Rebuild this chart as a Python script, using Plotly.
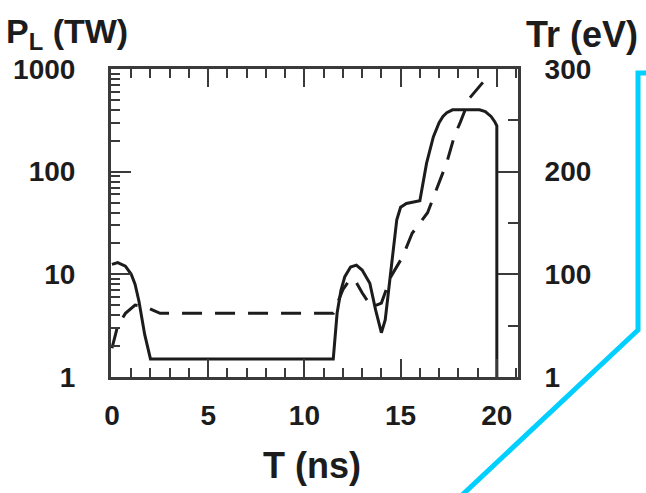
import plotly.graph_objects as go

# Laser power P_L (TW), solid line, left log axis
t_power = [0.0, 0.3, 0.7, 1.0, 1.2, 1.4, 1.7, 2.0, 11.5, 11.7, 11.9, 12.1, 12.4, 12.7, 13.0,
           13.4, 13.7, 14.0, 14.2, 14.5, 14.8, 15.0, 15.3, 16.0, 16.35, 16.7, 17.0, 17.2,
           17.4, 17.7, 19.1, 19.4, 19.7, 19.9, 20.0, 20.0]
power_tw = [12.5, 13, 12, 10, 8, 5.5, 2.6, 1.5, 1.5, 4.2, 7, 9.5, 11.8, 12.3, 11,
            8.2, 4.5, 2.7, 3.6, 11.8, 34, 45, 49, 52, 121, 218, 300, 345,
            375, 400, 400, 385, 345, 305, 280, 1.0]

# Radiation temperature Tr (eV), dashed line, right linear axis
t_temp = [0.0, 0.3, 0.7, 1.2, 1.8, 2.5, 11.5, 12.0, 12.4, 12.7, 13.0, 13.5, 14.0, 14.5,
          15.1, 15.6, 16.4, 17.0, 17.4, 17.8, 18.1, 18.6, 19.5]
temp_ev = [28, 50, 62, 70, 68, 62, 62, 85, 96, 92, 82, 68, 72, 98,
           117, 140, 160, 189, 209, 235, 248, 272, 292]

x_ticks = [0, 5, 10, 15, 20]
left_ticks = [1, 10, 100, 1000]
left_labels = ["1", "10", "100", "1000"]
right_ticks = [0, 100, 200, 300]
right_labels = ["1", "100", "200", "300"]

INK = "#1c1c1c"
FRAME = "#3a3a3a"
FONT = "Liberation Sans"

fig = go.Figure()
fig.add_trace(go.Scatter(x=t_power, y=power_tw, mode="lines",
                         line=dict(color=INK, width=3), yaxis="y", showlegend=False))
fig.add_trace(go.Scatter(x=t_temp, y=temp_ev, mode="lines",
                         line=dict(color=INK, width=3, dash="20px,13px"), yaxis="y2",
                         showlegend=False))

W, H = 646, 493
L, R, T, B = 111, 128, 69, 116
pw, ph = W - L - R, H - T - B


def px(xp):
    return (xp - L) / pw


def py(yp):
    return (H - B - yp) / ph


fig.update_layout(
    width=W, height=H,
    margin=dict(l=L, r=R, t=T, b=B, pad=0),
    paper_bgcolor="white", plot_bgcolor="white",
    font=dict(family=FONT, size=28, color=INK, weight="bold"),
    xaxis=dict(range=[-0.05, 21.1], tickvals=x_ticks, ticks="inside", ticklen=18,
               tickwidth=2, tickcolor=FRAME, showline=True, linewidth=3, linecolor=FRAME,
               mirror="ticks", showgrid=False, zeroline=False, ticklabelstandoff=11,
               minor=dict(ticks="inside", dtick=1, tick0=0, ticklen=9, tickwidth=2,
                          tickcolor=FRAME, showgrid=False),
               tickfont=dict(size=28)),
    yaxis=dict(type="log", range=[0, 3], tickvals=left_ticks, ticktext=left_labels,
               ticks="inside", ticklen=20, tickwidth=2, tickcolor=FRAME,
               showline=True, linewidth=3, linecolor=FRAME, mirror=False,
               showgrid=False, zeroline=False, ticklabelstandoff=27,
               minor=dict(ticks="inside", dtick="D1", ticklen=9, tickwidth=2,
                          tickcolor=FRAME, showgrid=False),
               tickfont=dict(size=28)),
    yaxis2=dict(overlaying="y", side="right", range=[0, 300], tickvals=right_ticks,
                ticktext=right_labels, ticks="inside", ticklen=20, tickwidth=2,
                tickcolor=FRAME, showline=True, linewidth=3, linecolor=FRAME,
                showgrid=False, zeroline=False, ticklabelstandoff=18,
                minor=dict(ticks="inside", dtick=50, tick0=0, ticklen=10, tickwidth=2,
                           tickcolor=FRAME, showgrid=False),
                tickfont=dict(size=28)),
    annotations=[
        dict(text="P<sub>L</sub> (TW)", xref="paper", yref="paper", x=px(4), y=py(33),
             xanchor="left", yanchor="middle", showarrow=False, font=dict(size=34)),
        dict(text="Tr (eV)", xref="paper", yref="paper", x=px(640), y=py(35),
             xanchor="right", yanchor="middle", showarrow=False, font=dict(size=36)),
        dict(text="T (ns)", xref="paper", yref="paper", x=px(312), y=py(466),
             xanchor="center", yanchor="middle", showarrow=False, font=dict(size=36)),
    ],
    shapes=[
        dict(type="path", xref="paper", yref="paper",
             path=f"M {px(646)},{py(73)} L {px(638)},{py(73)} L {px(638)},{py(330)} "
                  f"L {px(460)},{py(497)}",
             line=dict(color="#00CFFF", width=5)),
    ],
)

fig.write_html("out.html", config={"displayModeBar": False},
               post_script="document.body.style.margin='0';document.body.style.overflow='hidden';")
